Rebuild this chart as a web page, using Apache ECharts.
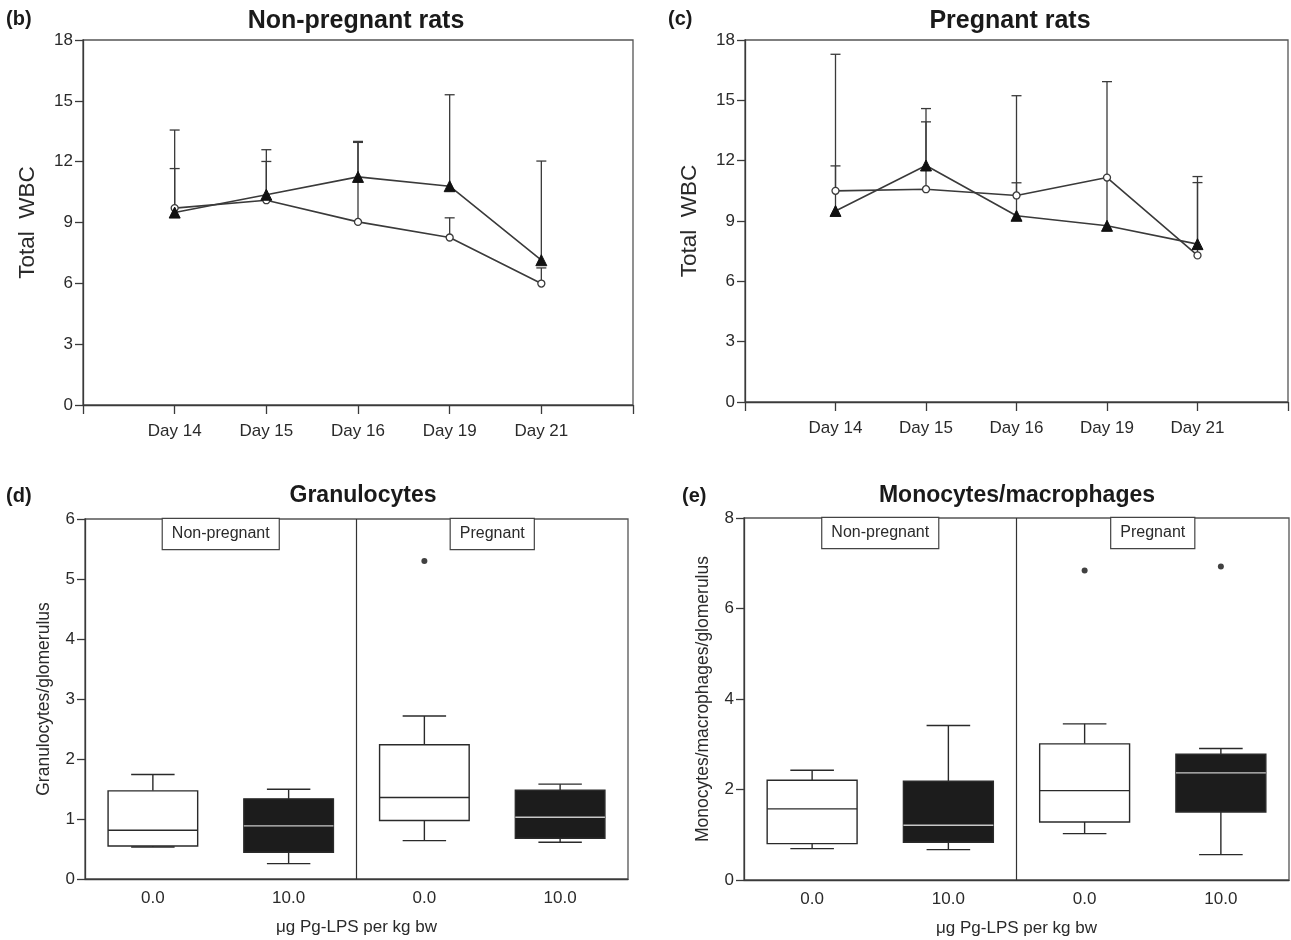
<!DOCTYPE html>
<html>
<head>
<meta charset="utf-8">
<script src="https://cdn.jsdelivr.net/npm/echarts@6/dist/echarts.min.js"></script>
<style>
html,body{margin:0;padding:0;background:#fff;}
#chart{width:1291px;height:940px;}
</style>
</head>
<body>
<div id="chart"></div>
<script>
// ---- Data ----
const days = ['Day 14', 'Day 15', 'Day 16', 'Day 19', 'Day 21'];

// (b) Non-pregnant rats
const nonPregCircle = [9.71, 10.10, 9.03, 8.26, 5.99];
const nonPregTriangle = [9.49, 10.37, 11.25, 10.79, 7.14];
const nonPregCircleErrTop = [11.66, 12.01, 12.95, 9.23, 6.76];
const nonPregTriangleErrTop = [13.56, 12.59, 13.00, 15.30, 12.03];

// (c) Pregnant rats
const pregCircle = [10.50, 10.58, 10.27, 11.16, 7.29];
const pregTriangle = [9.50, 11.76, 9.26, 8.76, 7.85];
const pregCircleErrTop = [11.74, 13.93, 10.90, null, 10.91];
const pregTriangleErrTop = [17.29, 14.59, 15.23, 15.93, 11.21];

// Box plots: [low whisker, Q1, median, Q3, high whisker]
const doses = ['0.0', '10.0', '0.0', '10.0'];
const groups = ['Non-pregnant', 'Pregnant'];
const granBoxes = [
  [0.534, 0.551, 0.813, 1.469, 1.742],
  [0.256, 0.445, 0.885, 1.336, 1.497],
  [0.640, 0.974, 1.358, 2.237, 2.716],
  [0.612, 0.679, 1.030, 1.480, 1.581]
];
const granOutliers = [[2, 5.30]];
const monoBoxes = [
  [0.693, 0.804, 1.571, 2.205, 2.426],
  [0.671, 0.833, 1.209, 2.183, 3.414],
  [1.025, 1.283, 1.976, 3.009, 3.451],
  [0.560, 1.504, 2.367, 2.780, 2.906]
];
const monoOutliers = [[2, 6.84], [3, 6.93]];
const boxFills = ['#ffffff', '#1c1c1c', '#ffffff', '#1c1c1c'];

// ---- Styling ----
const FONT = '"Liberation Sans", Arial, sans-serif';
const TXT = '#2a2a2a';
const LINE = '#3a3a3a';

const chart = echarts.init(document.getElementById('chart'), null, {renderer: 'canvas'});

const grids = [
  {left: 83, top: 40, width: 550, height: 365},
  {left: 745, top: 40, width: 544, height: 362},
  {left: 85, top: 519, width: 543, height: 360},
  {left: 744, top: 518, width: 545, height: 362}
];

function lineXAxis(gi) {
  return {
    type: 'value', gridIndex: gi, min: 0, max: 6, interval: 1,
    axisLine: {lineStyle: {color: LINE, width: 1.3}},
    axisTick: {length: 9, lineStyle: {color: LINE, width: 1.3}},
    splitLine: {show: false},
    axisLabel: {
      color: TXT, fontFamily: FONT, fontSize: 17, margin: 18,
      formatter: v => (v >= 1 && v <= days.length) ? days[v - 1] : ''
    }
  };
}
function lineYAxis(gi) {
  return {
    type: 'value', gridIndex: gi, min: 0, max: 18, interval: 3,
    name: 'Total  WBC', nameLocation: 'middle', nameGap: 44, nameRotate: 90,
    nameTextStyle: {color: TXT, fontFamily: FONT, fontSize: 22.5},
    axisLine: {show: true, lineStyle: {color: LINE, width: 1.3}},
    axisTick: {show: true, length: 8, lineStyle: {color: LINE, width: 1.3}},
    splitLine: {show: false},
    axisLabel: {color: TXT, fontFamily: FONT, fontSize: 17, margin: 10}
  };
}
function boxXAxis(gi) {
  return {
    type: 'category', gridIndex: gi, data: doses.map((d, i) => 'k' + i),
    boundaryGap: true,
    name: 'μg Pg-LPS per kg bw', nameLocation: 'middle', nameGap: 40,
    nameTextStyle: {color: TXT, fontFamily: FONT, fontSize: 17},
    axisLine: {lineStyle: {color: LINE, width: 1.3}},
    axisTick: {alignWithLabel: true, length: 8, lineStyle: {color: LINE, width: 1.3}},
    axisLabel: {color: TXT, fontFamily: FONT, fontSize: 17, margin: 11,
      formatter: (v, i) => doses[i]}
  };
}
function boxYAxis(gi, max, interval, name) {
  return {
    type: 'value', gridIndex: gi, min: 0, max: max, interval: interval,
    name: name, nameLocation: 'middle', nameGap: 32, nameRotate: 90,
    nameTextStyle: {color: TXT, fontFamily: FONT, fontSize: 17.5},
    axisLine: {show: true, lineStyle: {color: LINE, width: 1.3}},
    axisTick: {show: true, length: 8, lineStyle: {color: LINE, width: 1.3}},
    splitLine: {show: false},
    axisLabel: {color: TXT, fontFamily: FONT, fontSize: 17, margin: 10}
  };
}

function errorSeries(gi, means, tops) {
  return {
    type: 'custom', xAxisIndex: gi, yAxisIndex: gi, z: 3,
    data: means.map((m, i) => [i + 1, m, tops[i]]).filter(d => d[2] != null),
    renderItem: function (params, api) {
      const base = api.coord([api.value(0), api.value(1)]);
      const top = api.coord([api.value(0), api.value(2)]);
      const hw = 5;
      const st = {stroke: LINE, lineWidth: 1.3};
      return {type: 'group', children: [
        {type: 'line', shape: {x1: base[0], y1: base[1], x2: top[0], y2: top[1]}, style: st},
        {type: 'line', shape: {x1: top[0] - hw, y1: top[1], x2: top[0] + hw, y2: top[1]}, style: st}
      ]};
    }
  };
}
function lineSeries(gi, vals, kind) {
  return {
    type: 'line', xAxisIndex: gi, yAxisIndex: gi, z: 4,
    data: vals.map((v, i) => [i + 1, v]),
    symbol: kind === 'tri' ? 'triangle' : 'circle',
    symbolSize: kind === 'tri' ? 11 : 7,
    lineStyle: {color: LINE, width: 1.6},
    itemStyle: kind === 'tri' ? {color: '#111', borderColor: '#111', borderWidth: 1}
                              : {color: '#fff', borderColor: LINE, borderWidth: 1.3},
    animation: false
  };
}

function boxSeries(gi, boxes) {
  return {
    type: 'custom', xAxisIndex: gi, yAxisIndex: gi, z: 3,
    data: boxes.map((b, i) => [i].concat(b)),
    renderItem: function (params, api) {
      const idx = api.value(0);
      const lo = api.coord([idx, api.value(1)]);
      const q1 = api.coord([idx, api.value(2)]);
      const md = api.coord([idx, api.value(3)]);
      const q3 = api.coord([idx, api.value(4)]);
      const hi = api.coord([idx, api.value(5)]);
      const band = api.size([1, 0])[0];
      const bw = band * 0.66, cw = band * 0.32;
      const x = md[0];
      const fill = boxFills[idx];
      const dark = fill !== '#ffffff';
      const st = {stroke: '#2a2a2a', lineWidth: 1.4};
      return {type: 'group', children: [
        {type: 'line', shape: {x1: x, y1: q3[1], x2: x, y2: hi[1]}, style: st},
        {type: 'line', shape: {x1: x, y1: q1[1], x2: x, y2: lo[1]}, style: st},
        {type: 'line', shape: {x1: x - cw / 2, y1: hi[1], x2: x + cw / 2, y2: hi[1]}, style: st},
        {type: 'line', shape: {x1: x - cw / 2, y1: lo[1], x2: x + cw / 2, y2: lo[1]}, style: st},
        {type: 'rect', shape: {x: x - bw / 2, y: q3[1], width: bw, height: q1[1] - q3[1]},
          style: {fill: fill, stroke: '#2a2a2a', lineWidth: 1.4}},
        {type: 'line', shape: {x1: x - bw / 2, y1: md[1], x2: x + bw / 2, y2: md[1]},
          style: {stroke: dark ? '#c8c8c8' : '#2a2a2a', lineWidth: 1.4}}
      ]};
    }
  };
}
function outlierSeries(gi, pts) {
  return {
    type: 'scatter', xAxisIndex: gi, yAxisIndex: gi, z: 4,
    data: pts, symbol: 'circle', symbolSize: 6,
    itemStyle: {color: '#111'}
  };
}
function panelAnnot(gi, ymax) {
  // divider between the two groups + group label boxes at the top
  return {
    type: 'custom', xAxisIndex: gi, yAxisIndex: gi, z: 5, silent: true,
    data: [[0, 1, 0], [2, 3, 1]],
    renderItem: function (params, api) {
      const a = api.coord([api.value(0), ymax]);
      const b = api.coord([api.value(1), ymax]);
      const cx = (a[0] + b[0]) / 2;
      const children = [{
        type: 'text', x: cx, y: a[1],
        style: {text: groups[api.value(2)], fill: TXT, font: '16px ' + FONT,
          textAlign: 'center', textVerticalAlign: 'top',
          backgroundColor: '#fff', borderColor: '#444', borderWidth: 1.2,
          padding: [7, 9, 7, 9]}
      }];
      if (api.value(2) === 0) {
        const c = api.coord([2, 0]);
        const divX = (b[0] + c[0]) / 2;
        children.push({type: 'line', shape: {x1: divX, y1: a[1], x2: divX, y2: c[1]},
          style: {stroke: '#333', lineWidth: 1.2}});
      }
      return {type: 'group', children: children};
    }
  };
}

const titles = [
  {x: 356, y: 21, t: 'Non-pregnant rats', s: 25},
  {x: 1010, y: 21, t: 'Pregnant rats', s: 25},
  {x: 363, y: 496, t: 'Granulocytes', s: 23},
  {x: 1017, y: 496, t: 'Monocytes/macrophages', s: 23}
];
const letters = [
  {x: 6, y: 19, t: '(b)'}, {x: 668, y: 19, t: '(c)'},
  {x: 6, y: 496, t: '(d)'}, {x: 682, y: 496, t: '(e)'}
];

const option = {
  animation: false,
  backgroundColor: '#fff',
  grid: grids.map(g => Object.assign({show: true, borderColor: '#555', borderWidth: 1.3,
    backgroundColor: 'transparent', containLabel: false}, g)),
  xAxis: [lineXAxis(0), lineXAxis(1), boxXAxis(2), boxXAxis(3)],
  yAxis: [lineYAxis(0), lineYAxis(1),
    boxYAxis(2, 6, 1, 'Granulocytes/glomerulus'),
    boxYAxis(3, 8, 2, 'Monocytes/macrophages/glomerulus')],
  graphic: titles.map(o => ({type: 'text', x: o.x, y: o.y,
      style: {text: o.t, fill: '#1a1a1a', font: 'bold ' + o.s + 'px ' + FONT, textAlign: 'center', textVerticalAlign: 'middle'}}))
    .concat(letters.map(o => ({type: 'text', x: o.x, y: o.y,
      style: {text: o.t, fill: '#1a1a1a', font: 'bold 20px ' + FONT, textAlign: 'left', textVerticalAlign: 'middle'}}))),
  series: [
    errorSeries(0, nonPregCircle, nonPregCircleErrTop),
    errorSeries(0, nonPregTriangle, nonPregTriangleErrTop),
    lineSeries(0, nonPregCircle, 'circle'),
    lineSeries(0, nonPregTriangle, 'tri'),
    errorSeries(1, pregCircle, pregCircleErrTop),
    errorSeries(1, pregTriangle, pregTriangleErrTop),
    lineSeries(1, pregCircle, 'circle'),
    lineSeries(1, pregTriangle, 'tri'),
    boxSeries(2, granBoxes),
    outlierSeries(2, granOutliers),
    panelAnnot(2, 6),
    boxSeries(3, monoBoxes),
    outlierSeries(3, monoOutliers),
    panelAnnot(3, 8)
  ]
};
chart.setOption(option);
</script>
</body>
</html>
